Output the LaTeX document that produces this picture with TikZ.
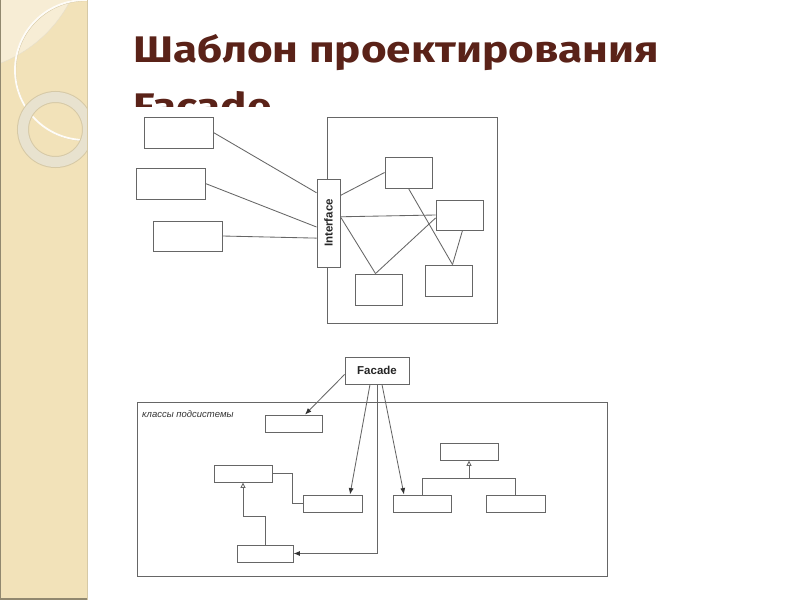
\documentclass[tikz,border=0pt]{standalone}
\usepackage{fontspec}
\setmainfont{Liberation Sans}
\newfontfamily\titlefont{Fira Sans}
\usetikzlibrary{calc,arrows.meta}
\definecolor{panel}{HTML}{F2E2B9}
\definecolor{paneledge}{HTML}{D6C9A6}
\definecolor{ringcol}{HTML}{E8E2CF}
\definecolor{titlecol}{HTML}{5A2218}
\definecolor{ln}{HTML}{666666}
\tikzset{
  box/.style={draw=ln,line width=0.9pt,inner sep=0pt,fill=white},
  conn/.style={draw=ln,line width=0.85pt},
  arr/.style={conn,-{Latex[length=6.5pt,width=5pt,color=black!80]}},
  inh/.style={conn,-{Triangle[open,length=5.5pt,width=5pt]}},
  ttl/.style={anchor=base west,inner sep=0pt,text=titlecol,font=\titlefont\bfseries\fontsize{37}{40}\selectfont},
}
\begin{document}
\begin{tikzpicture}[x=1pt,y=-1pt]
\useasboundingbox (0,0) rectangle (800,600);
\fill[white] (0,0) rectangle (800,600);
% left panel
\begin{scope}
\clip (0,0) rectangle (87,600);
\fill[panel] (0,0) rectangle (87,600);
\fill[white,opacity=0.4] (-47,-60) circle (132);
\draw[paneledge!60!white,line width=0.5pt] (-47,-60) circle (132);
\draw[paneledge,line width=0.7pt] (85.8,70.8) circle (70);
\draw[white!90!panel,line width=1.8pt] (85,70) circle (70);
\draw[paneledge,line width=12pt] (55.5,129.5) circle (32.5);
\draw[ringcol,line width=10pt] (55.5,129.5) circle (32.5);
\end{scope}
\draw[paneledge,line width=1.5pt] (87.5,0) -- (87.5,600);
\draw[black!40!panel,line width=1.2pt] (0.6,0) -- (0.6,600);
\draw[black!40!panel,line width=1.2pt] (0,599) -- (87,599);
% title
\node[ttl] (t1) at (133,62) {\scalebox{1.19}[1]{Шаблон проектирования}};
\begin{scope}
\clip (100,70) rectangle (700,106.5);
\node[ttl] (t2) at (133,119) {\scalebox{1.19}[1]{Facade}};
\end{scope}
% top diagram
\node[box,minimum width=170pt,minimum height=206pt] (big) at (412,220) {};
\node[box,minimum width=69pt,minimum height=31pt] (A) at (178.5,132.5) {};
\node[box,minimum width=69pt,minimum height=31pt] (B) at (170.5,183.5) {};
\node[box,minimum width=69pt,minimum height=30pt] (C) at (187.5,236) {};
\node[box,minimum width=47pt,minimum height=31pt] (D) at (408.5,172.5) {};
\node[box,minimum width=47pt,minimum height=30pt] (E) at (459.5,215) {};
\node[box,minimum width=47pt,minimum height=31pt] (F) at (378.5,289.5) {};
\node[box,minimum width=47pt,minimum height=31pt] (G) at (448.5,280.5) {};
\node[box,minimum width=23pt,minimum height=88pt] (I) at (328.5,223) {};
\node[rotate=90,font=\bfseries\fontsize{11.5}{12}\selectfont,text=black!85] (Itext) at (I.center) {Interface};
\draw[conn] (A.east) -- ($(I.north west)!0.16!(I.south west)$);
\draw[conn] (B.east) -- ($(I.north west)!0.545!(I.south west)$);
\draw[conn] (C.east) -- ($(I.north west)!0.67!(I.south west)$);
\draw[conn] ($(I.north east)!0.19!(I.south east)$) -- (D.west);
\draw[conn] ($(I.north east)!0.43!(I.south east)$) -- (E.west);
\draw[conn] ($(I.north east)!0.43!(I.south east)$) -- ($(F.north)+(-3,0)$);
\draw[conn] ($(F.north)+(-3,0)$) -- ($(E.west)+(0,3)$);
\draw[conn] (D.south) -- ($(G.north)+(4,0)$);
\draw[conn] ($(E.south)+(3,0)$) -- ($(G.north)+(4,0)$);
% bottom diagram
\node[box,minimum width=470pt,minimum height=174pt] (sub) at (372,489) {};
\node[anchor=north west,inner sep=0pt,font=\itshape\fontsize{9.5}{10}\selectfont,text=black!80] (lbl) at (142,410) {классы подсистемы};
\node[box,minimum width=64pt,minimum height=27pt,font=\bfseries\fontsize{11.5}{12}\selectfont,text=black!85] (Fa) at (377,370.5) {Facade};
\node[box,minimum width=57pt,minimum height=17pt] (S1) at (293.5,423.5) {};
\node[box,minimum width=58pt,minimum height=17pt] (S2) at (243,473.5) {};
\node[box,minimum width=59pt,minimum height=17pt] (S3) at (332.5,503.5) {};
\node[box,minimum width=56pt,minimum height=17pt] (S4) at (265,553.5) {};
\node[box,minimum width=58pt,minimum height=17pt] (S5) at (422,503.5) {};
\node[box,minimum width=58pt,minimum height=17pt] (S6) at (469,451.5) {};
\node[box,minimum width=59pt,minimum height=17pt] (S7) at (515.5,503.5) {};
\draw[arr] ($(Fa.west)+(0,4)$) -- ($(S1.north)+(11.5,0)$);
\draw[arr] ($(Fa.south)+(-7,0)$) -- ($(S3.north)+(17.5,0)$);
\draw[arr] ($(Fa.south)+(5,0)$) -- ($(S5.north)+(-18,0)$);
\draw[arr] (Fa.south) |- (S4.east);
\draw[conn] (S2.east) -- ++(20,0) |- (S3.west);
\draw[inh] (S4.north) -- ++(0,-28) -| (S2.south);
\draw[inh] ($(S6.south)+(0,18)$) coordinate (j) -- (S6.south);
\draw[conn] (S5.north) -- (S5.north |- j) -- (S7.north |- j) -- (S7.north);
\end{tikzpicture}
\end{document}
